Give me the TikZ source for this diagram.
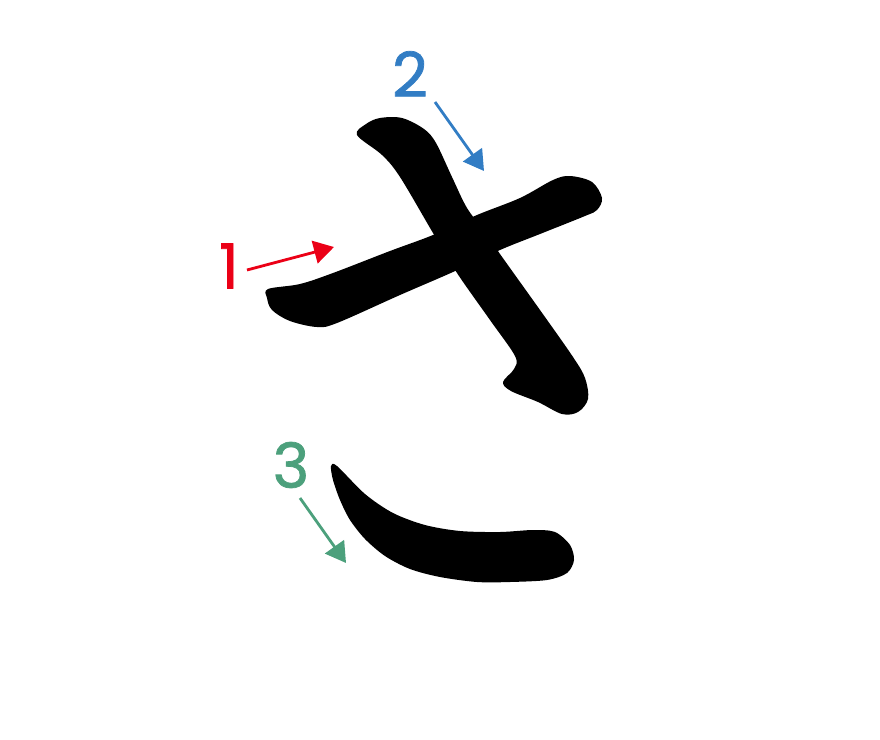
\documentclass[tikz,border=0pt]{standalone}
\usepackage{fontspec}
\newfontfamily\numfont[FakeBold=1.2]{Poppins}
\usetikzlibrary{arrows.meta}
\definecolor{numred}{RGB}{235,0,22}
\definecolor{numblue}{RGB}{50,125,196}
\definecolor{numgreen}{RGB}{76,160,124}
\tikzset{
  numlabel/.style={inner sep=0pt, font=\numfont\fontsize{62}{62}\selectfont},
  orderarrow/.style={line width=2.8pt, -{Triangle[length=20pt,width=23pt]}},
  strokeshape/.style={fill=black, draw=none}
}
\begin{document}
\begin{tikzpicture}[x=1pt,y=-1pt]
\useasboundingbox (0,0) rectangle (880,739);
% stroke 1
\fill[strokeshape] plot[smooth cycle, tension=0.55] coordinates {
 (268,289) (300,284) (333,273) (390,251) (433,235) (477,215) (520,198) (553,180)
 (570,176) (592,182) (602,198) (597,210) (585,216) (540,234) (500,250) (453,272)
 (400,295) (337,323) (317,327) (290,321) (272,310) (267,298)};
% stroke 2
\fill[strokeshape] plot[smooth cycle, tension=0.55] coordinates {
 (357,135) (366,124) (380,118) (402,118) (424,129) (436,143) (452,177) (467,208)
 (485,232) (500,254) (540,310) (573,357) (585,378) (588,399) (578,412) (562,414)
 (538,402) (511,391) (503,382) (514,369) (515,356) (490,320) (457,273) (433,233)
 (400,177) (382,155)};
% stroke 3
\fill[strokeshape] plot[smooth cycle, tension=0.5] coordinates {
 (331,466) (337,466) (365,494) (393,513) (425,525) (460,531) (500,532) (533,530)
 (555,532) (570,545) (574,560) (567,573) (547,580) (510,582) (477,582) (440,577)
 (410,569) (385,556) (365,539) (350,520) (340,500) (333,480)};
% labels
\node[numlabel, text=numred] (n1) at (229,266) {1};
\node[numlabel, text=numblue] (n2) at (410,74) {2};
\node[numlabel, text=numgreen] (n3) at (291,465) {3};
\coordinate (s1) at (247,270); \coordinate (e1) at (334,247);
\coordinate (s2) at (435,102); \coordinate (e2) at (484,171);
\coordinate (s3) at (300,498); \coordinate (e3) at (346,563);
\draw[orderarrow, numred] (s1) -- (e1);
\draw[orderarrow, numblue] (s2) -- (e2);
\draw[orderarrow, numgreen] (s3) -- (e3);
\end{tikzpicture}
\end{document}
